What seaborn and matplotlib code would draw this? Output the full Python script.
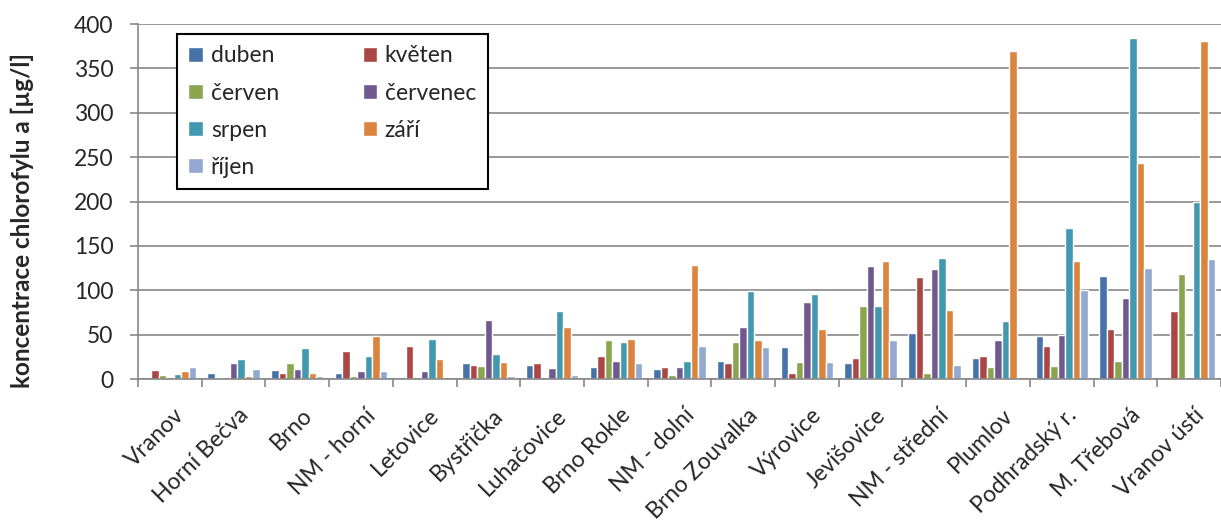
import numpy as np
import pandas as pd
import matplotlib
matplotlib.use("Agg")
import matplotlib.pyplot as plt
import matplotlib.transforms as mtransforms
import seaborn as sns

# Sampling sites (categories on the x axis)
sites = ["Vranov", "Horní Bečva", "Brno", "NM - horní", "Letovice", "Bystřička",
         "Luhačovice", "Brno Rokle", "NM - dolní", "Brno Zouvalka", "Výrovice",
         "Jevišovice", "NM - střední", "Plumlov", "Podhradský r.", "M. Třebová",
         "Vranov ústí"]

months = ["duben", "květen", "červen", "červenec", "srpen", "září", "říjen"]

nan = np.nan
# Chlorophyll-a concentration [µg/l] per month and site (nan = no sample)
duben = [nan, 7, 10.5, 7, nan, 18, 15.5, 14, 11, 20.5, 35.5, 18.5, 52, 23.5, 49, 116.5, nan]
kveten = [10.5, 1.5, 6.5, 32, 37.5, 16, 18.5, 26, 13, 17.5, 7, 23.5, 114.5, 25.5, 37.5, 56.5, 77]
cerven = [5, nan, 18.5, 3, nan, 14.5, nan, 44, 4, 42, 19, 82.5, 7, 13.5, 15, 20, 118.5]
cervenec = [nan, 18, 11.5, 8.5, 8.5, 67, 12.5, 20, 13.5, 58.5, 86.5, 127, 123.5, 44, 50, 91, nan]
srpen = [6, 23, 35, 25.5, 45, 28, 77, 42, 20, 99, 96, 82, 136.5, 65.5, 170, 384, 199]
zari = [8.5, 3, 6.5, 48, 22, 19.5, 58.5, 45.5, 128, 43.5, 56.5, 133.5, 78, 370, 133.5, 243.5, 381]
rijen = [13, 11.5, 3.5, 9.5, nan, 3, 4, 18.5, 37, 35.5, 19, 44.5, 15.5, nan, 100, 125.5, 135]

series = [duben, kveten, cerven, cervenec, srpen, zari, rijen]
colors = ["#4572A7", "#AA4643", "#89A54E", "#71588F", "#4198AF", "#DB843D", "#93A9CF"]

rows = []
for month, vals in zip(months, series):
    for site, v in zip(sites, vals):
        rows.append({"site": site, "month": month, "value": v})
df = pd.DataFrame(rows)

sns.set_theme(style="white")
plt.rcParams["font.family"] = ["Lato", "DejaVu Sans"]

GRAY = "#878787"
FS = 16.5

fig = plt.figure(figsize=(12.21, 5.22), dpi=100)
W, H = 1221, 522
ax = fig.add_axes([138 / W, 1 - 379 / H, (W - 138) / W, 355 / H])

sns.barplot(data=df, x="site", y="value", hue="month", order=sites,
            hue_order=months, palette=colors, saturation=1, width=7 / 8.5,
            errorbar=None, ax=ax)

ax.set_xlim(-0.5, len(sites) - 0.5 - 5 / 64)
ax.set_ylim(0, 400)
ax.set_yticks(np.arange(0, 401, 50))
ax.set_xlabel("")
ax.set_ylabel("")

ax.set_axisbelow(True)
ax.yaxis.grid(True, color=GRAY, linewidth=1.2)
ax.xaxis.grid(False)
for side in ("top", "right"):
    ax.spines[side].set_visible(False)
for side in ("left", "bottom"):
    ax.spines[side].set_color(GRAY)
    ax.spines[side].set_linewidth(1.2)

# category labels at group centres, tick marks between groups
ax.set_xticks(np.arange(len(sites)))
ax.set_xticklabels(sites, rotation=45, ha="right", va="top",
                   rotation_mode="anchor", fontsize=FS)
ax.set_xticks(np.arange(-0.5, len(sites), 1), minor=True)
ax.tick_params(axis="x", which="major", length=0, pad=18.5)
ax.tick_params(axis="x", which="minor", length=5.8, width=1.2, color=GRAY,
               direction="out", bottom=True)
ax.tick_params(axis="y", length=5.8, width=1.2, color=GRAY, direction="out",
               pad=12, labelsize=FS, left=True)
shift = mtransforms.ScaledTranslation(4 / 100, 0, fig.dpi_scale_trans)
for lab in ax.get_xticklabels():
    lab.set_transform(lab.get_transform() + shift)

fig.text(22 / W, 1 - 221 / H, "koncentrace chlorofylu a [µg/l]", rotation=90,
         ha="center", va="center", fontsize=17.5, fontweight="bold")

handles, labels = ax.get_legend_handles_labels()
ax.get_legend().remove()
order = [0, 2, 4, 6, 1, 3, 5]
leg = fig.legend([handles[i] for i in order], [labels[i] for i in order],
                 ncol=2, loc="upper left",
                 bbox_to_anchor=(177 / W, 1 - 34 / H),
                 bbox_transform=fig.transFigure, borderaxespad=0,
                 fontsize=FS, frameon=True, fancybox=False,
                 handlelength=0.62, handleheight=0.62, handletextpad=0.35,
                 labelspacing=0.7, columnspacing=3.65, borderpad=0.5)
leg.get_frame().set_edgecolor("black")
leg.get_frame().set_linewidth(1.5)
leg.get_frame().set_facecolor("white")
leg.get_frame().set_alpha(1)

fig.savefig("out.png", dpi=100)
